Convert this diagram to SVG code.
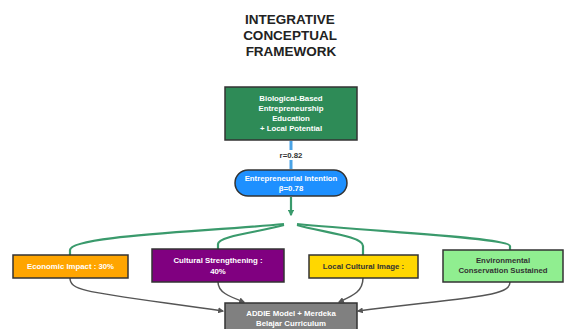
<svg xmlns="http://www.w3.org/2000/svg" width="564" height="329" viewBox="0 0 564 329">
<style>
.t{font-family:"Liberation Sans",Arial,sans-serif;font-weight:bold;text-anchor:middle}
.title{font-size:13.5px;fill:#222}
.w{font-size:7.8px;fill:#fff}
.d{font-size:7.8px;fill:#333}
.box{stroke:#333;stroke-width:1.5}
.gc{fill:none;stroke:#3a9a6c;stroke-width:2.2}
.ac{fill:none;stroke:#555;stroke-width:1.5}
</style>
<defs>
<marker id="ag" viewBox="0 0 10 10" refX="8" refY="5" markerWidth="3" markerHeight="3" orient="auto"><path d="M0,0L10,5L0,10z" fill="#3a9a6c"/></marker>
<marker id="ak" viewBox="0 0 10 10" refX="8" refY="5" markerWidth="4" markerHeight="4" orient="auto"><path d="M0,0L10,5L0,10z" fill="#555"/></marker>
</defs>
<g id="title">
<text class="t title" x="290" y="24">INTEGRATIVE</text>
<text class="t title" x="290" y="40">CONCEPTUAL</text>
<text class="t title" x="291" y="56">FRAMEWORK</text>
</g>
<g id="connectors">
<line x1="291" y1="141" x2="291" y2="169" stroke="#4aa3e6" stroke-width="3"/>
<rect x="277" y="150" width="28" height="10" fill="#fff"/>
<text class="t d" x="291" y="158">r=0.82</text>
<line x1="291" y1="197" x2="291" y2="215" class="gc" marker-end="url(#ag)"/>
<path class="gc" d="M284,224 C200,232 70,236 70,250 L70,255"/>
<path class="gc" d="M284,225 C260,232 218,236 218,244 L218,249"/>
<path class="gc" d="M297,225 C320,232 363,236 363,246 L363,255"/>
<path class="gc" d="M297,224 C380,232 510,238 510,246 L510,250"/>
<path class="ac" d="M70,278 C70,292 90,292 223,311" marker-end="url(#ak)"/>
<path class="ac" d="M218,282 C218,292 228,296 244,302" marker-end="url(#ak)"/>
<path class="ac" d="M363,278 C363,292 352,296 339,302" marker-end="url(#ak)"/>
<path class="ac" d="M510,282 C510,296 480,296 358,311" marker-end="url(#ak)"/>
</g>
<g id="n-bio">
<rect class="box" x="225" y="87" width="132" height="53" fill="#2e8b57"/>
<text class="t w" x="291" y="101">Biological-Based</text>
<text class="t w" x="291" y="111">Entrepreneurship</text>
<text class="t w" x="291" y="121">Education</text>
<text class="t w" x="291" y="131">+ Local Potential</text>
</g>
<g id="n-intention">
<rect class="box" x="235" y="170" width="112" height="26" rx="13" fill="#1e90ff"/>
<text class="t w" x="291" y="181">Entrepreneurial Intention</text>
<text class="t w" x="291" y="191">β=0.78</text>
</g>
<g id="n-economic">
<rect class="box" x="13" y="255" width="115" height="23" fill="#ffa500"/>
<text class="t w" x="70.5" y="269">Economic Impact : 30%</text>
</g>
<g id="n-cultural">
<rect class="box" x="152" y="249" width="132" height="33" fill="#800080"/>
<text class="t w" x="218" y="263">Cultural Strengthening :</text>
<text class="t w" x="218" y="274">40%</text>
</g>
<g id="n-local">
<rect class="box" x="309" y="255" width="109" height="23" fill="#ffd700"/>
<text class="t d" x="363.5" y="269">Local Cultural Image :</text>
</g>
<g id="n-env">
<rect class="box" x="443" y="250" width="120" height="32" fill="#90ee90"/>
<text class="t d" x="503" y="263">Environmental</text>
<text class="t d" x="503" y="273">Conservation Sustained</text>
</g>
<g id="n-addie">
<rect class="box" x="225" y="303" width="132" height="30" fill="#808080"/>
<text class="t w" x="291" y="316">ADDIE Model + Merdeka</text>
<text class="t w" x="291" y="326">Belajar Curriculum</text>
</g>
</svg>
